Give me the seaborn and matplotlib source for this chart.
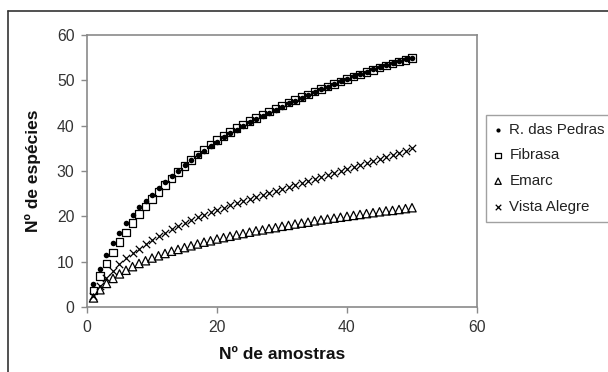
import seaborn as sns
import numpy as np
import pandas as pd
import matplotlib.pyplot as plt
from matplotlib.lines import Line2D

# Data ------------------------------------------------------------------------
amostras = list(range(1, 51))

r_das_pedras = [5.0, 8.4, 11.5, 14.1, 16.4, 18.5, 20.3, 22.0, 23.4, 24.8,
                26.2, 27.6, 28.9, 30.1, 31.3, 32.4, 33.5, 34.5, 35.5, 36.5,
                37.4, 38.3, 39.1, 39.9, 40.7, 41.4, 42.1, 42.8, 43.5, 44.2,
                44.9, 45.5, 46.2, 46.8, 47.4, 48.0, 48.6, 49.2, 49.8, 50.4,
                50.9, 51.4, 51.9, 52.4, 52.9, 53.4, 53.8, 54.2, 54.6, 55.0]

fibrasa = [3.7, 6.8, 9.6, 12.0, 14.3, 16.5, 18.5, 20.5, 22.2, 23.8,
           25.4, 26.9, 28.4, 29.8, 31.1, 32.4, 33.6, 34.7, 35.8, 36.8,
           37.7, 38.6, 39.5, 40.3, 41.0, 41.7, 42.4, 43.1, 43.8, 44.4,
           45.1, 45.7, 46.3, 46.9, 47.5, 48.1, 48.7, 49.2, 49.8, 50.3,
           50.8, 51.3, 51.8, 52.3, 52.8, 53.3, 53.7, 54.1, 54.5, 54.9]

emarc = [2.0, 3.8, 5.2, 6.3, 7.3, 8.1, 8.9, 9.6, 10.2, 10.8,
         11.3, 11.8, 12.3, 12.7, 13.1, 13.5, 13.9, 14.3, 14.6, 15.0,
         15.3, 15.6, 15.9, 16.2, 16.5, 16.8, 17.0, 17.3, 17.5, 17.8,
         18.0, 18.3, 18.5, 18.7, 19.0, 19.2, 19.4, 19.6, 19.8, 20.0,
         20.2, 20.4, 20.6, 20.8, 21.0, 21.2, 21.3, 21.5, 21.7, 21.9]

vista_alegre = [2.5, 4.6, 6.4, 8.0, 9.4, 10.7, 11.9, 12.9, 13.9, 14.8,
                15.6, 16.4, 17.1, 17.8, 18.5, 19.2, 19.8, 20.4, 21.0, 21.5,
                21.9, 22.4, 22.9, 23.4, 23.8, 24.3, 24.7, 25.2, 25.6, 26.0,
                26.5, 26.9, 27.3, 27.8, 28.2, 28.6, 29.1, 29.5, 29.9, 30.4,
                30.8, 31.3, 31.7, 32.2, 32.6, 33.1, 33.6, 34.0, 34.5, 35.0]

series = {'R. das Pedras': r_das_pedras, 'Fibrasa': fibrasa,
          'Emarc': emarc, 'Vista Alegre': vista_alegre}

df = pd.concat([pd.DataFrame({'amostras': amostras, 'especies': v, 'local': k})
                for k, v in series.items()], ignore_index=True)

# Plot -------------------------------------------------------------------------
sns.set_style('white')
plt.rcParams['font.family'] = ['Liberation Sans', 'DejaVu Sans']

fig = plt.figure(figsize=(6.08, 3.72), dpi=100)
ax = fig.add_axes([87 / 608, 65 / 372, 390 / 608, 272 / 372])

styles = {
    'R. das Pedras': dict(marker='o', s=16, facecolor='black', edgecolor='black', linewidth=0),
    'Fibrasa': dict(marker='s', s=28, facecolor='none', edgecolor='black', linewidth=0.9),
    'Emarc': dict(marker='^', s=36, facecolor='none', edgecolor='black', linewidth=0.9),
    'Vista Alegre': dict(marker='x', s=28, color='black', linewidth=0.9),
}
for nome, st in styles.items():
    sns.scatterplot(data=df[df['local'] == nome], x='amostras', y='especies',
                    ax=ax, label=nome, **st)

ax.set_xlim(0, 60)
ax.set_ylim(0, 60)
ax.set_xticks([0, 20, 40, 60])
ax.set_yticks([0, 10, 20, 30, 40, 50, 60])
for sp in ax.spines.values():
    sp.set_color('#8a8a8a')
    sp.set_linewidth(1.2)
ax.tick_params(axis='both', direction='out', length=4, width=1, color='#8a8a8a',
               labelsize=11.3, labelcolor='#333333', pad=5, bottom=True, left=True)

ax.set_xlabel('Nº de amostras', fontsize=12.5, fontweight='bold', color='#111111', labelpad=9)
ax.set_ylabel('Nº de espécies', fontsize=12.5, fontweight='bold', color='#111111', labelpad=11)

leg = ax.legend(loc='upper left', bbox_to_anchor=(486 / 608, 0, 135 / 608, 1 - 115 / 372),
                bbox_transform=fig.transFigure, mode='expand', frameon=True, fancybox=False,
                fontsize=10.9, handlelength=0.6, handletextpad=0.45, markerscale=0.75,
                labelspacing=0.78, borderpad=0.5, borderaxespad=0)
leg.get_frame().set_edgecolor('#8a8a8a')
leg.get_frame().set_linewidth(1.0)
for t in leg.get_texts():
    t.set_color('#222222')

# outer chart border (top and left)
fig.add_artist(Line2D([8 / 608, 1.0], [1 - 11 / 372, 1 - 11 / 372],
                      transform=fig.transFigure, color='#333333', linewidth=1.2))
fig.add_artist(Line2D([8 / 608, 8 / 608], [0.0, 1 - 11 / 372],
                      transform=fig.transFigure, color='#333333', linewidth=1.2))

fig.savefig('out.png', dpi=100)
